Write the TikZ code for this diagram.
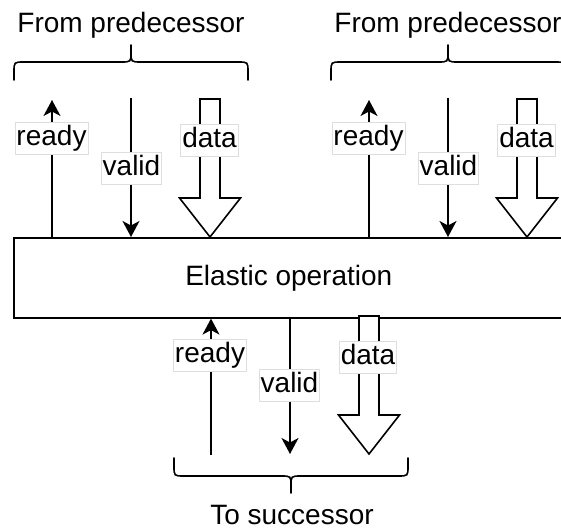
\documentclass[tikz,border=0pt]{standalone}
\usepackage{fontspec}
\setmainfont{Liberation Sans}
\usetikzlibrary{arrows.meta}
\begin{document}
\begin{tikzpicture}[x=1pt,y=-1pt,
  font=\fontsize{28}{32}\selectfont,
  line width=1.6pt,
  lbl/.style={fill=white, draw=black!13, line width=0.8pt, inner xsep=1.5pt, inner ysep=2.8pt, text height=20.5pt, text depth=6pt},
  sig/.style={-{Stealth[length=16pt,width=17pt,inset=4.5pt]}},
  title/.style={anchor=base, inner sep=0pt},
  brace/.pic={\draw[line cap=round] (-117,18) -- (-117,10) .. controls (-117,0) .. (-107,0) -- (-10,0) .. controls (0,0) .. (0,-10) -- (0,-17)
        (0,-10) .. controls (0,0) .. (10,0) -- (107,0) .. controls (117,0) .. (117,10) -- (117,18);},
  fatarrow/.pic={\draw[fill=white, line join=miter] (-10,0) -- (10,0) -- (10,99) -- (30.5,99) -- (0,138) -- (-30.5,99) -- (-10,99) -- cycle;}
]
\clip (0,0) rectangle (561,529);
\useasboundingbox (0,0) rectangle (561,529);

% main block
\node[draw, minimum width=550pt, minimum height=80pt, anchor=north west, inner sep=0pt] (op) at (13,237) {Elastic operation};

% titles and braces
\node[title] (t1) at (131,32.5) {From predecessor};
\node[title] (t2) at (448,32.5) {From predecessor};
\node[title] (t3) at (292,524.5) {To successor};
\pic at (131,62) {brace};
\pic at (448,62) {brace};
\pic[yscale=-1] at (291,476) {brace};

% free ends
\coordinate (r1) at (52,100);
\coordinate (v1) at (131,98);
\coordinate (r2) at (369,100);
\coordinate (v2) at (448,98);
\coordinate (r3) at (211,455);
\coordinate (v3) at (290,454);

% top-left group
\draw[sig] (op.north -| r1) -- (r1);
\draw[sig] (v1) -- (v1 |- op.north);
\pic at (210,99) {fatarrow};
\node[lbl] (lr1) at (51.5,138) {ready};
\node[lbl] (lv1) at (131.5,168) {valid};
\node[lbl] (ld1) at (209.5,140) {data};

% top-right group
\draw[sig] (op.north -| r2) -- (r2);
\draw[sig] (v2) -- (v2 |- op.north);
\pic at (527,99) {fatarrow};
\node[lbl] (lr2) at (368.5,138) {ready};
\node[lbl] (lv2) at (448.5,168) {valid};
\node[lbl] (ld2) at (526.5,140) {data};

% bottom group
\draw[sig] (r3) -- (r3 |- op.south);
\draw[sig] (v3 |- op.south) -- (v3);
\pic at (369,316) {fatarrow};
\node[lbl] (lr3) at (210,355.5) {ready};
\node[lbl] (lv3) at (289.5,385) {valid};
\node[lbl] (ld3) at (368,357.5) {data};
\end{tikzpicture}
\end{document}
